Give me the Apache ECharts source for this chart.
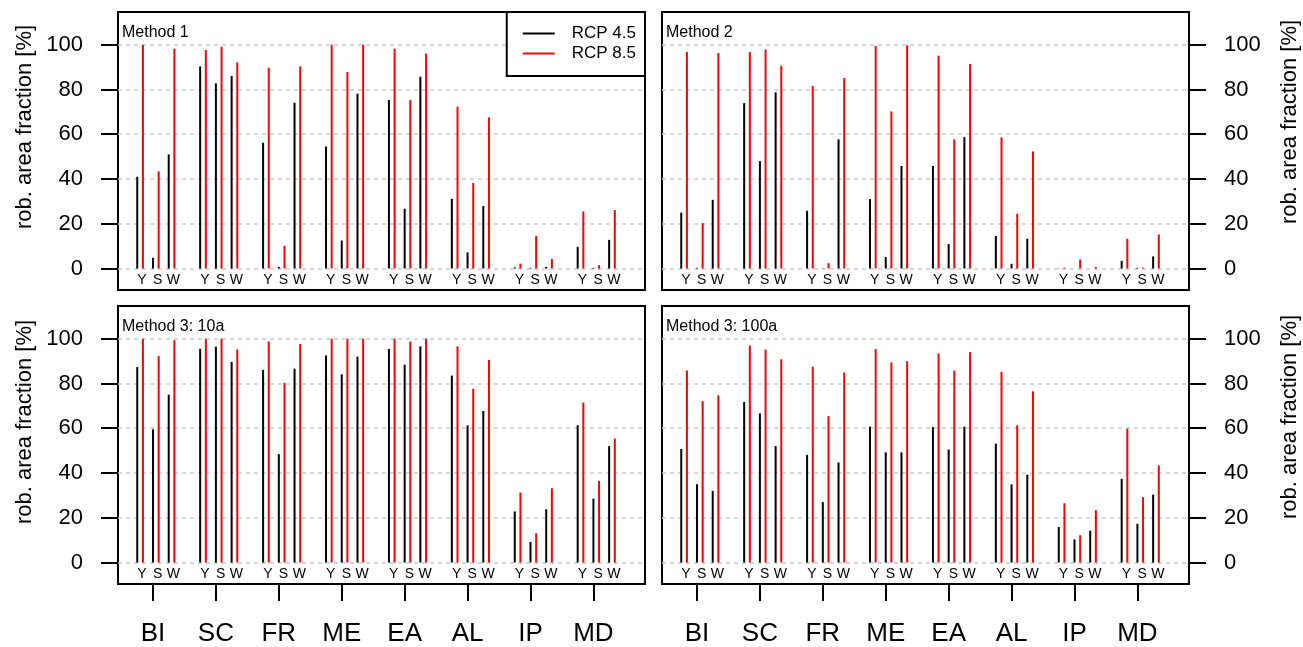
<!DOCTYPE html>
<html>
<head>
<meta charset="utf-8">
<script src="https://cdn.jsdelivr.net/npm/echarts@6/dist/echarts.min.js"></script>
<style>
html, body { margin: 0; padding: 0; background: #fff; }
#chart { width: 1303px; height: 647px; }
</style>
</head>
<body>
<div id="chart"></div>
<script>
const regions = ['BI', 'SC', 'FR', 'ME', 'EA', 'AL', 'IP', 'MD']
const seasons = ['Y', 'S', 'W']
const yTicks = [0, 20, 40, 60, 80, 100]
const panelTitles = ['Method 1', 'Method 2', 'Method 3: 10a', 'Method 3: 100a']
const rcpNames = ['RCP 4.5', 'RCP 8.5']

// per region: Y, S, W
const m1Rcp45 = [41.0, 4.8, 51.0, 90.3, 82.7, 86.0, 56.2, 0.7, 74.1, 54.5, 12.5, 78.1, 75.3, 26.7, 85.7, 31.1, 7.2, 27.9, 0.5, 0.3, 0.7, 9.7, 0.3, 12.8]
const m1Rcp85 = [99.9, 43.4, 98.2, 97.6, 99.1, 92.1, 89.7, 10.1, 90.3, 100, 87.8, 100, 98.2, 75.3, 96.0, 72.3, 38.2, 67.5, 2.2, 14.6, 4.3, 25.5, 1.5, 26.1]
const m2Rcp45 = [25.0, 0.3, 30.7, 73.9, 48.0, 78.7, 25.8, 0.1, 57.7, 31.0, 5.1, 45.8, 45.8, 10.9, 58.7, 14.5, 2.1, 13.3, 0.1, 0, 0, 3.4, 0.3, 5.4]
const m2Rcp85 = [96.7, 20.3, 96.3, 96.7, 97.9, 90.6, 81.5, 2.4, 85.1, 99.4, 70.2, 99.7, 95.1, 57.7, 91.4, 58.6, 24.4, 52.3, 0.4, 4.0, 0.7, 13.3, 0.4, 15.2]
const m3aRcp45 = [87.3, 59.5, 75.0, 95.5, 96.4, 89.6, 86.1, 48.4, 86.6, 92.5, 84.1, 92.0, 95.4, 88.4, 96.6, 83.5, 61.3, 67.7, 22.8, 9.2, 23.8, 61.3, 28.5, 52.0]
const m3aRcp85 = [100, 92.2, 99.3, 100, 100, 95.2, 98.7, 80.3, 97.6, 100, 100, 100, 100, 98.7, 100, 96.6, 77.6, 90.5, 31.3, 13.1, 33.2, 71.5, 36.5, 55.4]
const m3bRcp45 = [50.7, 35.0, 32.0, 71.7, 66.6, 52.0, 48.1, 27.0, 44.7, 60.7, 49.2, 49.2, 60.5, 50.5, 60.7, 53.1, 34.9, 39.2, 15.9, 10.3, 14.2, 37.4, 17.3, 30.3]
const m3bRcp85 = [85.8, 72.1, 74.7, 96.9, 95.1, 90.8, 87.5, 65.4, 84.9, 95.4, 89.4, 89.9, 93.4, 85.8, 94.0, 85.2, 61.3, 76.5, 26.5, 12.2, 23.4, 59.8, 29.2, 43.4]

const panels = [
  [m1Rcp45, m1Rcp85],
  [m2Rcp45, m2Rcp85],
  [m3aRcp45, m3aRcp85],
  [m3bRcp45, m3bRcp85]
]
const rcpColors = ['#000000', '#ff0000']

const font = 'Liberation Sans, Arial, sans-serif'
const seasonStep = 0.25
const rcpStep = 0.09
const labelShift = 0.075
const xMin = -0.556
const xMax = 7.82

const grids = [
  { left: 118, top: 12, width: 527, height: 278 },
  { left: 662, top: 12, width: 527, height: 278 },
  { left: 118, top: 306, width: 527, height: 278 },
  { left: 662, top: 306, width: 527, height: 278 }
]

// season label positions
const seasonPos = []
const seasonByKey = {}
regions.forEach((r, g) => {
  seasons.forEach((s, k) => {
    const v = g + (k - 1) * seasonStep + labelShift
    seasonPos.push(v)
    seasonByKey[v.toFixed(3)] = s
  })
})
const regionPos = regions.map((r, g) => g)

const xAxis = []
const yAxis = []
const series = []
grids.forEach((gr, p) => {
  gr.show = true
  gr.borderColor = '#000'
  gr.borderWidth = 2
  xAxis.push({
    gridIndex: p,
    type: 'value',
    min: xMin,
    max: xMax,
    position: 'bottom',
    axisLine: { show: false, onZero: false },
    axisTick: { show: false },
    splitLine: { show: false },
    axisLabel: {
      inside: true,
      margin: 3,
      customValues: seasonPos,
      formatter: (v) => seasonByKey[Number(v).toFixed(3)] || '',
      fontSize: 14,
      fontFamily: font,
      color: '#000'
    }
  })
  yAxis.push({
    gridIndex: p,
    type: 'value',
    min: -9.6,
    max: 114.6,
    position: p % 2 === 0 ? 'left' : 'right',
    axisLine: { show: false, onZero: false },
    axisTick: { show: true, customValues: yTicks, length: 17, lineStyle: { color: '#000', width: 2 } },
    axisLabel: { customValues: yTicks, margin: 35, fontSize: 22, fontFamily: font, color: '#000' },
    splitLine: { show: true, lineStyle: { color: '#cccccc', width: 1.5, type: [4, 4] } }
  })
  panels[p].forEach((vals, r) => {
    series.push({
      name: rcpNames[r],
      type: 'bar',
      xAxisIndex: p,
      yAxisIndex: p,
      barWidth: 2,
      barGap: '-100%',
      silent: true,
      itemStyle: { color: rcpColors[r] },
      data: vals.map((v, i) => [Math.floor(i / 3) + (i % 3 - 1) * seasonStep + r * rcpStep, v])
    })
  })
})
// region axes under the bottom panels
;[2, 3].forEach((p) => {
  xAxis.push({
    gridIndex: p,
    type: 'value',
    min: xMin,
    max: xMax,
    position: 'bottom',
    axisLine: { show: false, onZero: false },
    splitLine: { show: false },
    axisTick: { show: true, customValues: regionPos, length: 17, lineStyle: { color: '#000', width: 2 } },
    axisLabel: {
      customValues: regionPos,
      formatter: (v) => regions[Math.round(v)],
      margin: 37,
      fontSize: 26,
      fontFamily: font,
      color: '#000'
    }
  })
})

const yName = 'rob. area fraction [%]'
const option = {
  animation: false,
  backgroundColor: '#fff',
  grid: grids,
  xAxis: xAxis,
  yAxis: yAxis,
  series: series,
  title: panelTitles.map((t, p) => ({
    text: t,
    left: grids[p].left + 4,
    top: grids[p].top + 13,
    padding: 0,
    textStyle: { fontSize: 16, fontWeight: 'normal', fontFamily: font, color: '#000' }
  })),
  legend: {
    data: rcpNames,
    orient: 'vertical',
    right: 1303 - 645,
    top: 12,
    selectedMode: false,
    backgroundColor: '#fff',
    borderColor: '#000',
    borderWidth: 2,
    borderRadius: 0,
    padding: [13, 9, 14, 16],
    itemWidth: 32,
    itemHeight: 2,
    itemGap: 3,
    icon: 'rect',
    textStyle: { fontSize: 17, fontFamily: font, color: '#000', lineHeight: 17, padding: [0, 0, 0, 12] }
  },
  graphic: [
    { x: 25, y: 127 }, { x: 1290, y: 122 }, { x: 25, y: 422 }, { x: 1290, y: 417 }
  ].map((pos) => ({
    type: 'text',
    x: pos.x,
    y: pos.y,
    rotation: Math.PI / 2,
    silent: true,
    style: { text: yName, fontSize: 22, fontFamily: font, fill: '#000', align: 'center', verticalAlign: 'middle' }
  }))
}

const myChart = echarts.init(document.getElementById('chart'))
myChart.setOption(option)
</script>
</body>
</html>
